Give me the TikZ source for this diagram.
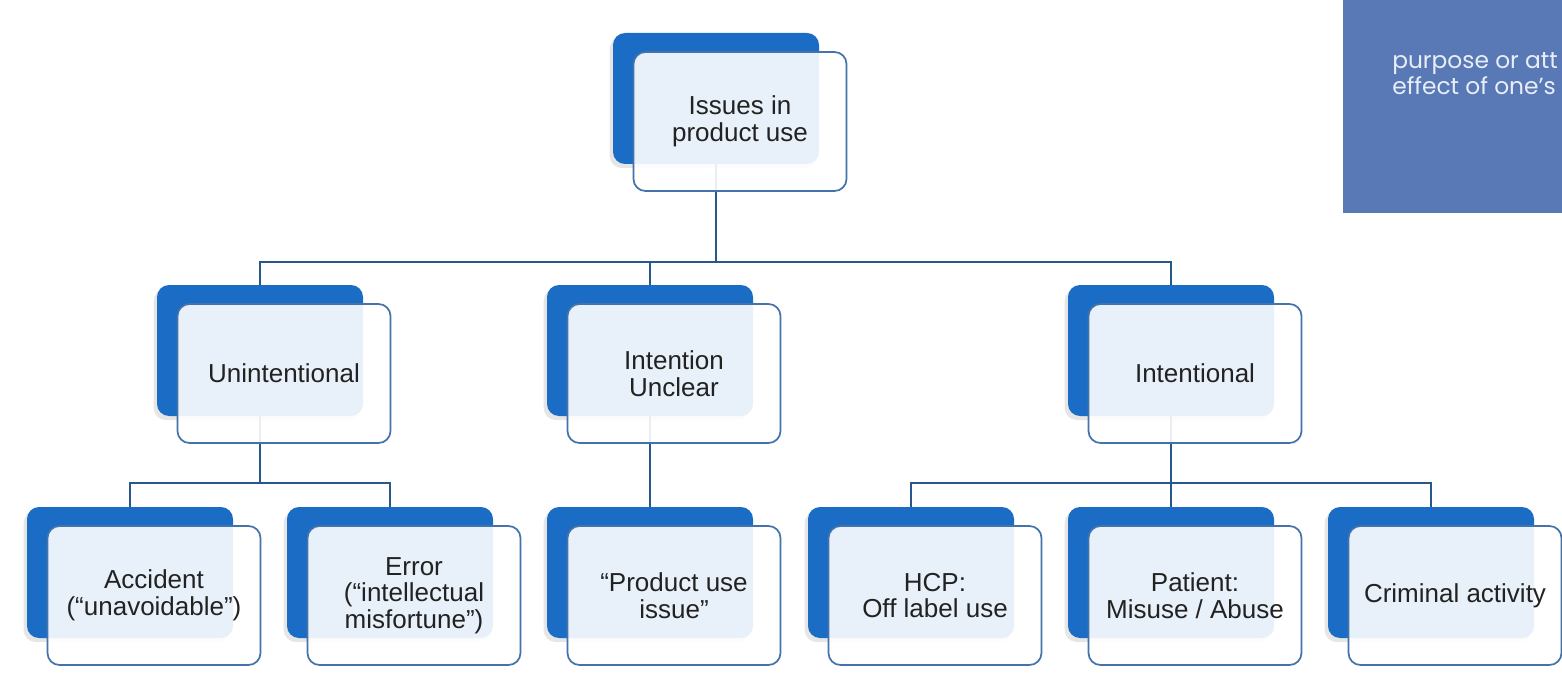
\documentclass[tikz,border=0pt]{standalone}
\usepackage{fontspec}
\setmainfont{Liberation Sans}
\newfontfamily\panelfont{Poppins}
\usetikzlibrary{shadows}

\definecolor{tabblue}{RGB}{27,108,196}
\definecolor{cardline}{RGB}{68,114,170}
\definecolor{linkblue}{RGB}{38,88,140}
\definecolor{panelblue}{RGB}{88,121,181}
\definecolor{cardtext}{RGB}{34,34,34}
\definecolor{paneltext}{RGB}{232,237,247}

\tikzset{
  tabbox/.style={rectangle, rounded corners=9pt, fill=tabblue, inner sep=0pt,
    minimum width=154.5pt, minimum height=98.25pt,
    drop shadow={shadow xshift=-2.5pt, shadow yshift=-3pt, opacity=0.2}},
  cardbox/.style={rectangle, rounded corners=9pt, draw=cardline, line width=1.3pt,
    fill=white, fill opacity=0.9, text opacity=1, text=cardtext, inner sep=0pt,
    minimum width=159.75pt, minimum height=104.25pt, align=center,
    font=\fontsize{19.5}{20}\selectfont},
  link/.style={draw=linkblue, line width=1.6pt},
  panelline/.style={anchor=base west, inner sep=0pt, text=paneltext,
    font=\panelfont\fontsize{17.5}{22}\selectfont},
}

\begin{document}
\begin{tikzpicture}[x=0.75pt,y=0.75pt,yscale=-1,xscale=1]
\clip (0,0) rectangle (1562,677);

%Back tabs
\node[tabbox] (top-b) at (716,98.5) {};
\node[tabbox] (unint-b) at (260,350.5) {};
\node[tabbox] (unclr-b) at (650,350.5) {};
\node[tabbox] (intl-b) at (1171,350.5) {};
\node[tabbox] (acc-b) at (130,572.5) {};
\node[tabbox] (err-b) at (390,572.5) {};
\node[tabbox] (pui-b) at (650,572.5) {};
\node[tabbox] (hcp-b) at (911,572.5) {};
\node[tabbox] (pat-b) at (1171,572.5) {};
\node[tabbox] (crim-b) at (1431,572.5) {};

%Connectors
\coordinate (bar1) at (0,262);
\coordinate (bar2) at (0,483);
\draw[link] (top-b.south) -- (top-b.south |- bar1);
\draw[link] (unint-b.north) |- (intl-b.north |- bar1) -- (intl-b.north);
\draw[link] (unclr-b.north) -- (unclr-b.north |- bar1);
\draw[link] (unint-b.south) -- (unint-b.south |- bar2);
\draw[link] (acc-b.north) |- (err-b.north |- bar2) -- (err-b.north);
\draw[link] (unclr-b.south) -- (pui-b.north);
\draw[link] (intl-b.south) -- (pat-b.north);
\draw[link] (hcp-b.north) |- (crim-b.north |- bar2) -- (crim-b.north);

%Front cards
\node[cardbox] (top) at ([shift={(24,23)}]top-b.center) {Issues in\\product use};
\node[cardbox] (unint) at ([shift={(24,23)}]unint-b.center) {Unintentional};
\node[cardbox] (unclr) at ([shift={(24,23)}]unclr-b.center) {Intention\\Unclear};
\node[cardbox] (intl) at ([shift={(24,23)}]intl-b.center) {Intentional};
\node[cardbox] (acc) at ([shift={(24,23)}]acc-b.center) {Accident\\(“unavoidable”)};
\node[cardbox] (err) at ([shift={(24,23)}]err-b.center) {Error\\(“intellectual\\misfortune”)};
\node[cardbox] (pui) at ([shift={(24,23)}]pui-b.center) {“Product use\\issue”};
\node[cardbox] (hcp) at ([shift={(24,23)}]hcp-b.center) {HCP:\\Off label use};
\node[cardbox] (pat) at ([shift={(24,23)}]pat-b.center) {Patient:\\Misuse / Abuse};
\node[cardbox] (crim) at ([shift={(24,23)}]crim-b.center) {Criminal activity};

%Side panel
\fill[panelblue] (1343,0) rectangle (1562,213);
\node[panelline] (panel-a) at (1392,69) {purpose or att};
\node[panelline] (panel-b) at (1392,95) {effect of one’s};

\end{tikzpicture}
\end{document}
